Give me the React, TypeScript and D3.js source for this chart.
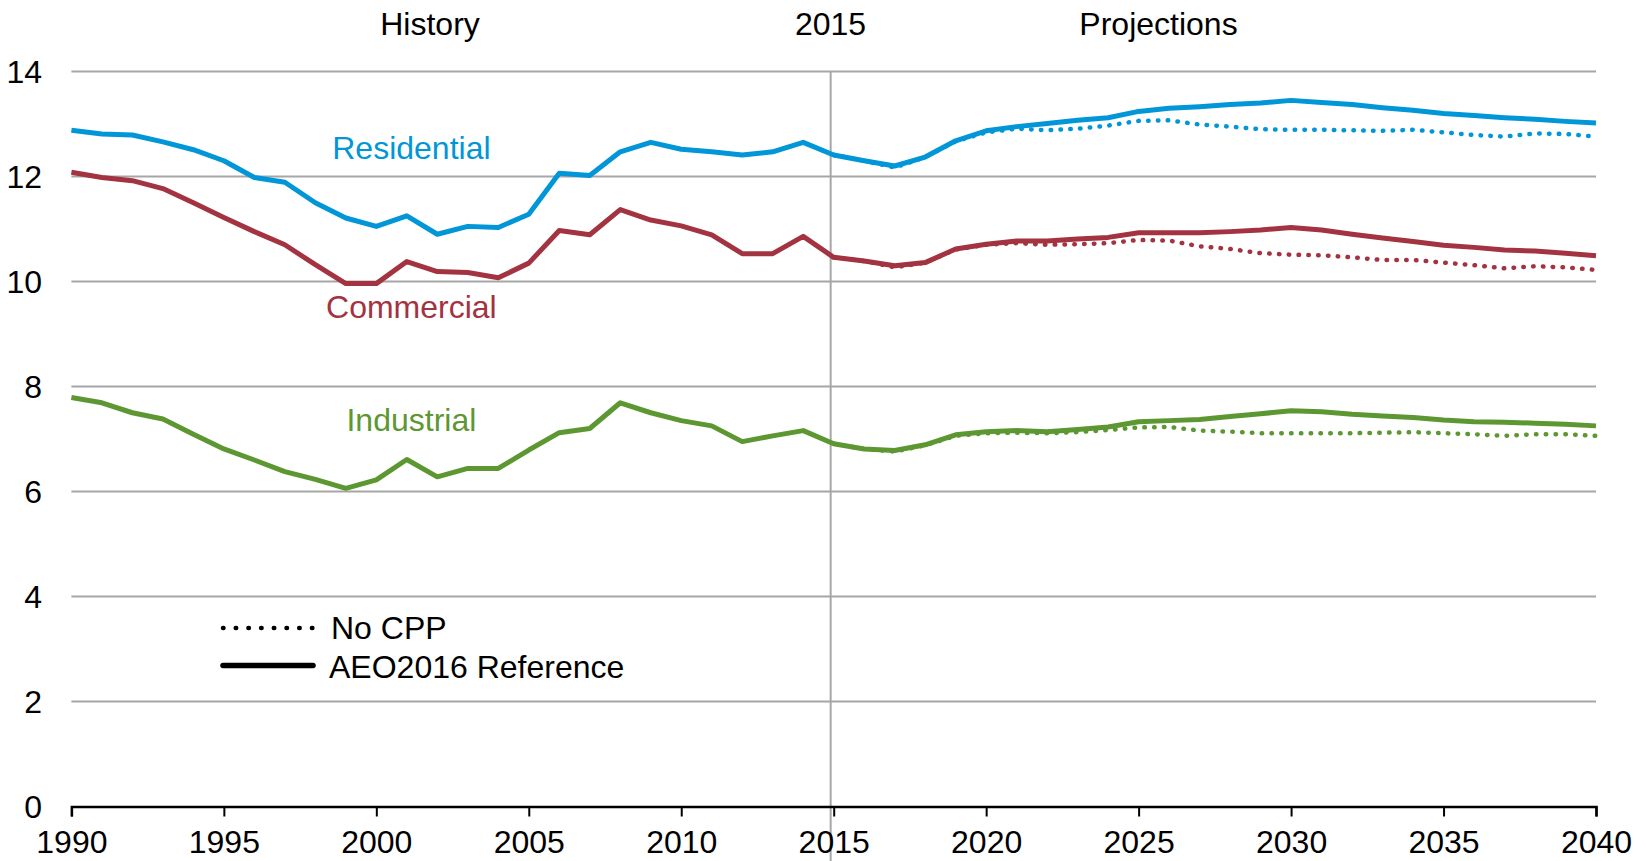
import React, { useEffect, useRef } from 'react';
import * as d3 from 'd3';

// years shown on the chart
const years = d3.range(1990, 2041);
const projYears = d3.range(2015, 2041);

// AEO2016 Reference (solid), 1990-2040
const residential = [
  12.88, 12.81, 12.79, 12.66, 12.51, 12.3, 11.98, 11.89, 11.5, 11.21, 11.05, 11.25, 10.9,
  11.05, 11.03, 11.28, 12.06, 12.02, 12.47, 12.65, 12.52, 12.47, 12.41, 12.47, 12.65, 12.41,
  12.3, 12.2, 12.37, 12.68, 12.87, 12.95, 13.01, 13.07, 13.12, 13.24, 13.3, 13.33,
  13.37, 13.4, 13.45, 13.41, 13.37, 13.31, 13.26, 13.2, 13.16, 13.12, 13.09, 13.05, 13.02,
];
const commercial = [
  12.08, 11.98, 11.92, 11.77, 11.5, 11.22, 10.95, 10.7, 10.32, 9.96, 9.96, 10.38, 10.19,
  10.17, 10.07, 10.35, 10.97, 10.89, 11.37, 11.17, 11.06, 10.89, 10.53, 10.53, 10.86, 10.46,
  10.39, 10.3, 10.36, 10.62, 10.71, 10.77, 10.77, 10.81, 10.84, 10.93, 10.93, 10.93,
  10.95, 10.98, 11.03, 10.98, 10.9, 10.83, 10.76, 10.69, 10.65, 10.6, 10.58, 10.54, 10.49,
];
const industrial = [
  7.79, 7.69, 7.5, 7.38, 7.09, 6.81, 6.6, 6.38, 6.23, 6.06, 6.22, 6.61, 6.28,
  6.44, 6.44, 6.79, 7.12, 7.2, 7.69, 7.5, 7.35, 7.25, 6.95, 7.06, 7.16, 6.91,
  6.81, 6.78, 6.89, 7.08, 7.14, 7.16, 7.14, 7.18, 7.23, 7.33, 7.35, 7.37,
  7.43, 7.48, 7.54, 7.52, 7.47, 7.44, 7.41, 7.36, 7.33, 7.32, 7.3, 7.28, 7.25,
];

// No CPP (dotted), 2015-2040
const residentialNoCpp = [
  12.41, 12.3, 12.17, 12.37, 12.67, 12.84, 12.91, 12.88, 12.91, 12.97, 13.06, 13.07, 12.99,
  12.95, 12.9, 12.89, 12.89, 12.88, 12.87, 12.89, 12.84, 12.79, 12.76, 12.82, 12.81, 12.76,
];
const commercialNoCpp = [
  10.46, 10.39, 10.27, 10.36, 10.61, 10.7, 10.73, 10.7, 10.71, 10.73, 10.79, 10.78, 10.67,
  10.62, 10.54, 10.51, 10.5, 10.46, 10.41, 10.41, 10.36, 10.31, 10.25, 10.29, 10.27, 10.22,
];
const industrialNoCpp = [
  6.91, 6.81, 6.76, 6.88, 7.06, 7.11, 7.12, 7.11, 7.13, 7.17, 7.22, 7.23, 7.16,
  7.14, 7.11, 7.11, 7.11, 7.11, 7.12, 7.13, 7.11, 7.09, 7.06, 7.09, 7.09, 7.06,
];

const yTicks = [0, 2, 4, 6, 8, 10, 12, 14];
const xTicks = [1990, 1995, 2000, 2005, 2010, 2015, 2020, 2025, 2030, 2035, 2040];

// label anchors are given in data units (year, value)
const series = [
  { name: 'Residential', color: '#0096d7', ref: residential, noCpp: residentialNoCpp, labelYear: 2001.15, labelValue: 12.55 },
  { name: 'Commercial', color: '#a33340', ref: commercial, noCpp: commercialNoCpp, labelYear: 2001.15, labelValue: 9.52 },
  { name: 'Industrial', color: '#5d9732', ref: industrial, noCpp: industrialNoCpp, labelYear: 2001.15, labelValue: 7.37 },
];

const FONT = '"Liberation Sans", Arial, sans-serif';
const FS = 32;

const App = () => {
  const svgRef = useRef<SVGSVGElement>(null);

  useEffect(() => {
    const svg = d3.select(svgRef.current);
    svg.selectAll('*').remove();

    const height = 861;
    const left = 71.4;
    const right = 1596;
    const top = 71.5;
    const bottom = 806.5;

    const x = d3.scaleLinear().domain([1990, 2040]).range([left, right]);
    const y = d3.scaleLinear().domain([0, 14]).range([bottom, top]);

    // gridlines
    svg
      .append('g')
      .selectAll('line')
      .data(yTicks.filter((d) => d > 0))
      .join('line')
      .attr('x1', left)
      .attr('x2', right)
      .attr('y1', (d) => y(d))
      .attr('y2', (d) => y(d))
      .attr('stroke', '#a6a6a6')
      .attr('stroke-width', 2);

    // history / projections divider
    svg
      .append('line')
      .attr('x1', x(2014.9))
      .attr('x2', x(2014.9))
      .attr('y1', y(14))
      .attr('y2', height)
      .attr('stroke', '#a6a6a6')
      .attr('stroke-width', 2);

    // x axis
    const xAxis = svg
      .append('g')
      .attr('transform', `translate(0,${bottom})`)
      .call(d3.axisBottom(x).tickValues(xTicks).tickFormat(d3.format('d')).tickSize(10).tickPadding(14));
    xAxis.select('.domain').attr('stroke', '#000').attr('stroke-width', 2.5);
    xAxis.selectAll('.tick line').attr('stroke', '#000').attr('stroke-width', 2);
    xAxis
      .selectAll('.tick text')
      .attr('fill', '#000')
      .attr('font-family', FONT)
      .attr('font-size', FS);

    // y labels
    svg
      .append('g')
      .selectAll('text')
      .data(yTicks)
      .join('text')
      .attr('x', 42)
      .attr('y', (d) => y(d))
      .attr('dy', '0.35em')
      .attr('text-anchor', 'end')
      .attr('font-family', FONT)
      .attr('font-size', FS)
      .text((d) => d);

    const line = d3
      .line<number>()
      .x((d, i) => x(years[i]))
      .y((d) => y(d));
    const projLine = d3
      .line<number>()
      .x((d, i) => x(projYears[i]))
      .y((d) => y(d));

    series.forEach((s) => {
      svg
        .append('path')
        .datum(s.ref)
        .attr('fill', 'none')
        .attr('stroke', s.color)
        .attr('stroke-width', 5)
        .attr('stroke-linejoin', 'round')
        .attr('d', line);

      svg
        .append('path')
        .datum(s.noCpp)
        .attr('fill', 'none')
        .attr('stroke', s.color)
        .attr('stroke-width', 4.5)
        .attr('stroke-linecap', 'round')
        .attr('stroke-dasharray', '0.5 9.3')
        .attr('d', projLine);

      svg
        .append('text')
        .attr('x', x(s.labelYear))
        .attr('y', y(s.labelValue))
        .attr('dy', '0.35em')
        .attr('text-anchor', 'middle')
        .attr('font-family', FONT)
        .attr('font-size', FS)
        .attr('fill', s.color)
        .text(s.name);
    });

    // top labels
    const headers = [
      { text: 'History', cx: 430 },
      { text: '2015', cx: 830.5 },
      { text: 'Projections', cx: 1158.5 },
    ];
    svg
      .append('g')
      .selectAll('text')
      .data(headers)
      .join('text')
      .attr('x', (d) => d.cx)
      .attr('y', 23.5)
      .attr('dy', '0.35em')
      .attr('text-anchor', 'middle')
      .attr('font-family', FONT)
      .attr('font-size', FS)
      .text((d) => d.text);

    // legend
    const legend = svg.append('g');
    legend
      .append('line')
      .attr('x1', 223)
      .attr('x2', 313)
      .attr('y1', 628)
      .attr('y2', 628)
      .attr('stroke', '#000')
      .attr('stroke-width', 4.5)
      .attr('stroke-linecap', 'round')
      .attr('stroke-dasharray', '0.5 12.2');
    legend
      .append('text')
      .attr('x', 331)
      .attr('y', 628)
      .attr('dy', '0.35em')
      .attr('font-family', FONT)
      .attr('font-size', FS)
      .text('No CPP');
    legend
      .append('line')
      .attr('x1', 223)
      .attr('x2', 313)
      .attr('y1', 665.5)
      .attr('y2', 665.5)
      .attr('stroke', '#000')
      .attr('stroke-width', 5.5)
      .attr('stroke-linecap', 'round');
    legend
      .append('text')
      .attr('x', 329)
      .attr('y', 667)
      .attr('dy', '0.35em')
      .attr('font-family', FONT)
      .attr('font-size', FS)
      .text('AEO2016 Reference');
  }, []);

  return (
    <svg
      ref={svgRef}
      width={1646}
      height={861}
      style={{ position: 'absolute', left: 0, top: 0, background: '#fff' }}
    />
  );
};

export default App;
